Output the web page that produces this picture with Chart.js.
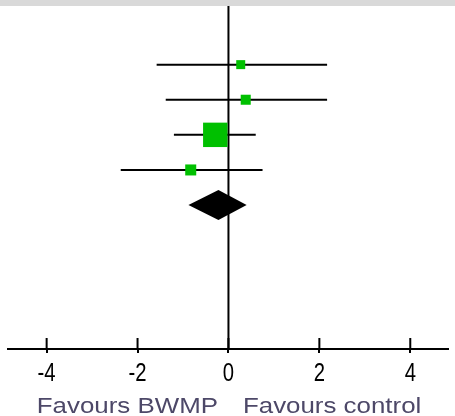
<!DOCTYPE html>
<html>
<head>
<meta charset="utf-8">
<script src="https://cdn.jsdelivr.net/npm/chart.js@4/dist/chart.umd.min.js"></script>
<style>
  html, body { margin: 0; padding: 0; background: #fff; }
  canvas { display: block; }
</style>
</head>
<body>
<canvas id="forest" width="455" height="416"></canvas>
<script>
// Study-level mean differences with 95% CI and weights (%)
const studies  = ['Study 1', 'Study 2', 'Study 3', 'Study 4'];
const meanDiff = [0.27, 0.38, -0.29, -0.83];
const ciLow    = [-1.58, -1.38, -1.20, -2.37];
const ciHigh   = [2.17, 2.17, 0.60, 0.75];
const weights  = [9.0, 11.2, 66.3, 13.5];
// Pooled estimate: [estimate, low, high]
const pooled   = [-0.22, -0.88, 0.40];
const xTicks   = [-4, -2, 0, 2, 4];
const leftLabel  = 'Favours BWMP';
const rightLabel = 'Favours control';

const pooledRow = studies.length + 1;

const forestPlugin = {
  id: 'forest',
  beforeDraw(chart) {
    const ctx = chart.ctx;
    ctx.save();
    ctx.fillStyle = '#d9d9d9';
    ctx.fillRect(0, 0, chart.width, chart.chartArea.top);
    ctx.restore();
  },
  beforeDatasetsDraw(chart) {
    const { ctx, chartArea, scales: { x, y } } = chart;
    ctx.save();
    ctx.strokeStyle = '#000';
    ctx.lineWidth = 2;
    // line of no effect
    const x0 = x.getPixelForValue(0);
    ctx.beginPath();
    ctx.moveTo(x0, chartArea.top);
    ctx.lineTo(x0, chartArea.bottom);
    ctx.stroke();
    // confidence intervals
    studies.forEach((s, i) => {
      const py = y.getPixelForValue(i + 1);
      ctx.beginPath();
      ctx.moveTo(x.getPixelForValue(ciLow[i]), py);
      ctx.lineTo(x.getPixelForValue(ciHigh[i]), py);
      ctx.stroke();
    });
    ctx.restore();
  },
  afterDatasetsDraw(chart) {
    const { ctx, scales: { x, y } } = chart;
    ctx.save();
    // pooled diamond
    const py = y.getPixelForValue(pooledRow);
    const half = 15;
    ctx.fillStyle = '#000';
    ctx.beginPath();
    ctx.moveTo(x.getPixelForValue(pooled[1]), py);
    ctx.lineTo(x.getPixelForValue(pooled[0]), py - half);
    ctx.lineTo(x.getPixelForValue(pooled[2]), py);
    ctx.lineTo(x.getPixelForValue(pooled[0]), py + half);
    ctx.closePath();
    ctx.fill();
    ctx.restore();
  },
  afterDraw(chart) {
    const { ctx, chartArea, scales: { x } } = chart;
    ctx.save();
    ctx.strokeStyle = '#000';
    ctx.lineWidth = 2;
    // tick marks reaching above the axis line, plus condensed tick labels
    ctx.fillStyle = '#000';
    ctx.font = '26px "Liberation Sans", Arial, sans-serif';
    ctx.textAlign = 'center';
    ctx.textBaseline = 'alphabetic';
    x.ticks.forEach(t => {
      const px = x.getPixelForValue(t.value);
      ctx.beginPath();
      ctx.moveTo(px, chartArea.bottom - 11);
      ctx.lineTo(px, chartArea.bottom);
      ctx.stroke();
      ctx.save();
      ctx.translate(px, chartArea.bottom + 31.5);
      ctx.scale(0.78, 1);
      ctx.fillText(String(t.value), 0, 0);
      ctx.restore();
    });
    // direction labels under the axis
    const x0 = x.getPixelForValue(0);
    const stretch = 1.15;
    const base = 413;
    ctx.fillStyle = '#4d4868';
    ctx.font = '22.5px "Liberation Sans", Arial, sans-serif';
    ctx.save();
    ctx.translate(x0 - 10.5, base);
    ctx.scale(stretch, 1);
    ctx.textAlign = 'right';
    ctx.fillText(leftLabel, 0, 0);
    ctx.restore();
    ctx.save();
    ctx.translate(x0 + 14.5, base);
    ctx.scale(stretch, 1);
    ctx.textAlign = 'left';
    ctx.fillText(rightLabel, 0, 0);
    ctx.restore();
    ctx.restore();
  }
};

new Chart(document.getElementById('forest'), {
  type: 'scatter',
  data: {
    datasets: [{
      label: 'Studies',
      data: meanDiff.map((v, i) => ({ x: v, y: i + 1 })),
      pointStyle: 'rect',
      pointRadius: weights.map(w => Math.sqrt(w) * 2.12),
      pointHoverRadius: weights.map(w => Math.sqrt(w) * 2.12),
      backgroundColor: '#00c000',
      borderColor: '#00c000',
      borderWidth: 0
    }]
  },
  options: {
    responsive: false,
    animation: false,
    devicePixelRatio: 1,
    layout: { autoPadding: false, padding: { top: 6, left: 8, right: 7, bottom: 63 } },
    plugins: { legend: { display: false }, tooltip: { enabled: false } },
    scales: {
      x: {
        type: 'linear',
        position: 'bottom',
        min: -4.85,
        max: 4.83,
        afterBuildTicks: scale => { scale.ticks = xTicks.map(v => ({ value: v })); },
        ticks: { display: false },
        grid: { drawOnChartArea: false, drawTicks: true, tickLength: 4, color: '#000', lineWidth: 2 },
        border: { color: '#000', width: 2 }
      },
      y: {
        type: 'linear',
        display: false,
        reverse: true,
        min: -0.67,
        max: 9.1
      }
    }
  },
  plugins: [forestPlugin]
});
</script>
</body>
</html>
